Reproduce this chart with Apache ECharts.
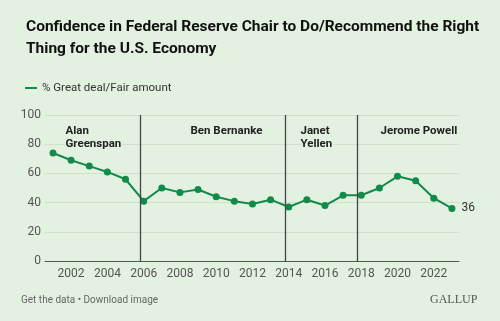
<!DOCTYPE html>
<html>
<head>
<meta charset="utf-8">
<script src="https://cdn.jsdelivr.net/npm/echarts@6/dist/echarts.min.js"></script>
<style>
html,body{margin:0;padding:0;background:#e3f1e0;}
#c{width:500px;height:321px;}
</style>
</head>
<body>
<div id="c"></div>
<script>
const years = [2001,2002,2003,2004,2005,2006,2007,2008,2009,2010,2011,2012,2013,2014,2015,2016,2017,2018,2019,2020,2021,2022,2023];
const values = [74,69,65,61,56,41,50,47,49,44,41,39,42,37,42,38,45,45,50,58,55,43,36];
const xTicks = [2002,2004,2006,2008,2010,2012,2014,2016,2018,2020,2022];
const chairStarts = [2005.8,2013.8,2017.8];
const chairNames = ['Alan\nGreenspan','Ben Bernanke','Janet\nYellen','Jerome Powell'];

const green = '#128a4b';
const bg = '#e3f1e0';
const chart = echarts.init(document.getElementById('c'), null, {renderer:'canvas'});
const labelPos = [[64,124],[189,124],[299,124],[379,124]];
chart.setOption({
  backgroundColor:bg,
  animation:false,
  textStyle:{fontFamily:'Roboto'},
  title:{
    text:'Confidence in Federal Reserve Chair to Do/Recommend the Right\nThing for the U.S. Economy',
    left:21, top:11,
    textStyle:{fontFamily:'Roboto',fontWeight:'bold',fontSize:15.5,lineHeight:22,color:'#111'}
  },
  legend:{
    left:20, top:77, itemWidth:12, itemHeight:2, icon:'rect', itemGap:6,
    data:[{name:'% Great deal/Fair amount'}],
    textStyle:{fontFamily:'Roboto',fontSize:11.5,color:'#333'}
  },
  grid:{left:45,right:41,top:115,bottom:60},
  xAxis:{
    type:'value', min:2000.56, max:2023.39,
    splitLine:{show:false},
    axisLine:{show:true,lineStyle:{color:'#555',width:1}},
    axisTick:{show:false},
    axisLabel:{customValues:xTicks,color:'#555',fontSize:12,margin:7,fontFamily:'Roboto',formatter:v=>String(v)}
  },
  yAxis:{
    type:'value', min:0, max:100, interval:20,
    axisLine:{show:false}, axisTick:{show:false},
    splitLine:{lineStyle:{color:'#cfe0cb',width:1}},
    axisLabel:{color:'#555',fontSize:12,margin:4,fontFamily:'Roboto'}
  },
  series:[{
    name:'% Great deal/Fair amount',
    type:'line',
    data:years.map((y,i)=>[y,values[i]]),
    color:green,
    lineStyle:{width:2,color:green},
    symbol:'circle', symbolSize:7,
    itemStyle:{color:green},
    label:{show:true,position:'right',distance:6,color:'#333',fontSize:12,fontFamily:'Roboto',
      formatter:p=>p.dataIndex===years.length-1?String(p.value[1]):''},
    markLine:{
      silent:true, symbol:'none', label:{show:false},
      lineStyle:{color:'#444',width:1.3,type:'solid'},
      data:chairStarts.map(x=>({xAxis:x}))
    },
    z:3
  }],
  graphic:[
    ...chairNames.map((n,i)=>({type:'text',left:labelPos[i][0],top:labelPos[i][1],z:10,
      style:{text:n,font:'bold 11.5px Roboto',fill:'#222',lineHeight:13,stroke:bg,lineWidth:3}})),
    {type:'text',left:21,top:295,style:{text:'Get the data • Download image',font:'10px Roboto',fill:'#666'}},
    {type:'text',left:430,top:294,style:{text:'GALLUP',font:'12px "Liberation Serif"',fill:'#555'}}
  ]
});
</script>
</body>
</html>
